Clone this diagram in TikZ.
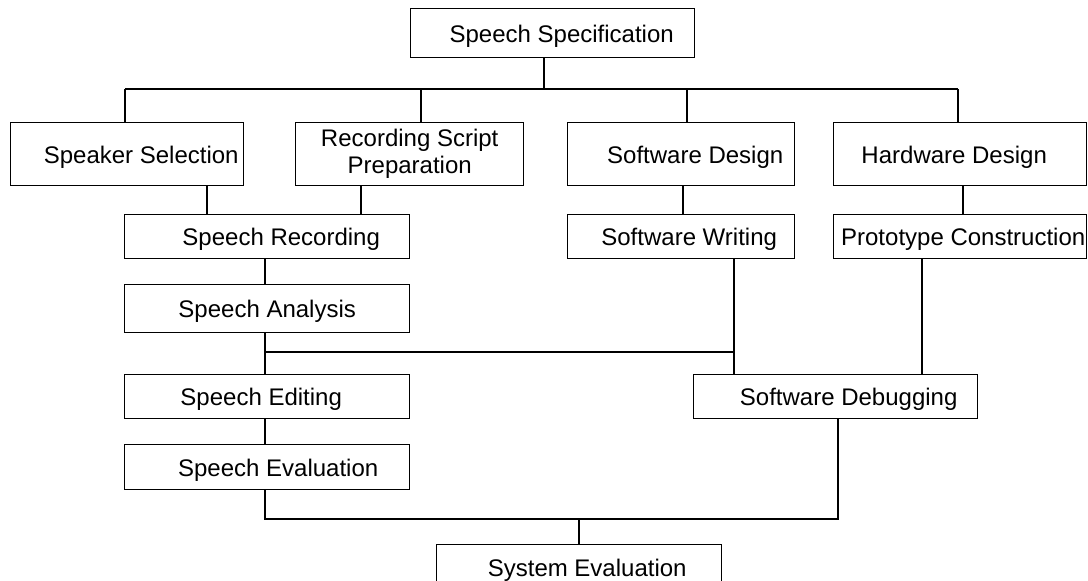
\documentclass[tikz,border=0pt]{standalone}
\usepackage{fontspec}
\setmainfont{Liberation Sans}
\usepackage{tikz}
\usetikzlibrary{positioning,calc}
\tikzset{
  etapa/.style={draw=black, line width=1.4pt, anchor=north west, inner sep=0pt, align=center, text height=19pt, text depth=1pt, font=\fontsize{24}{27}\selectfont},
  enlace/.style={line width=1.4pt},
}
\newcommand{\padl}[2]{\hspace*{#1}#2}
\newcommand{\padr}[2]{#2\hspace*{#1}}

\begin{document}
\begin{tikzpicture}[x=1pt, y=-1pt]
\useasboundingbox (0,0) rectangle (1088,581);

% etapas
\node[etapa, minimum width=284pt, minimum height=49pt] (spec) at (410,8) {\padl{18pt}{Speech Specification}};

\node[etapa, minimum width=233pt, minimum height=63pt] (spkr) at (10,122) {\padl{28pt}{Speaker Selection}};
\node[etapa, text height={}, text depth={}, minimum width=228pt, minimum height=63pt] (script) at (295,122) {\raisebox{-3pt}{\parbox{220pt}{\centering Recording Script\\Preparation}}};
\node[etapa, minimum width=227pt, minimum height=63pt] (swdes) at (567,122) {\padl{28pt}{Software Design}};
\node[etapa, minimum width=253pt, minimum height=63pt] (hwdes) at (833,122) {\padr{12pt}{Hardware Design}};

\node[etapa, minimum width=285pt, minimum height=44pt] (srec) at (124,214) {\padl{28pt}{Speech Recording}};
\node[etapa, minimum width=227pt, minimum height=44pt] (swwri) at (567,214) {\padl{16pt}{Software Writing}};
\node[etapa, minimum width=253pt, minimum height=44pt] (proto) at (833,214) {\padl{6pt}{Prototype Construction}};

\node[etapa, minimum width=285pt, minimum height=48pt] (sana) at (124,284) {Speech Analysis};
\node[etapa, minimum width=285pt, minimum height=44pt] (sedit) at (124,374) {\padr{12pt}{Speech Editing}};
\node[etapa, minimum width=285pt, minimum height=45pt] (seval) at (124,444) {\padl{22pt}{Speech Evaluation}};
\node[etapa, minimum width=284pt, minimum height=44pt] (swdbg) at (693,374) {\padl{26pt}{Software Debugging}};

\node[etapa, minimum width=285pt, minimum height=46pt] (syseval) at (436,544) {\padl{16pt}{System Evaluation}};

% guias verticales
\coordinate (xspk) at (207,0);
\coordinate (xscr) at (361,0);
\coordinate (xsw) at (683,0);
\coordinate (xhw) at (963,0);
\coordinate (xspeech) at (265,0);
\coordinate (xwri) at (734,0);
\coordinate (xpro) at (922,0);
\coordinate (xdbg) at (838,0);

% bus superior
\coordinate (bus) at (544,89);
\coordinate (b1) at (125,89);
\coordinate (b2) at (421,89);
\coordinate (b3) at (687,89);
\coordinate (b4) at (958,89);
\draw[enlace] (bus |- spec.south) -- (bus);
\draw[enlace] (b1) -- (b4);
\draw[enlace] (b1) -- (b1 |- spkr.north);
\draw[enlace] (b2) -- (b2 |- script.north);
\draw[enlace] (b3) -- (b3 |- swdes.north);
\draw[enlace] (b4) -- (b4 |- hwdes.north);

\draw[enlace] (xspk |- spkr.south) -- (xspk |- srec.north);
\draw[enlace] (xscr |- script.south) -- (xscr |- srec.north);
\draw[enlace] (xsw |- swdes.south) -- (xsw |- swwri.north);
\draw[enlace] (xhw |- hwdes.south) -- (xhw |- proto.north);

\draw[enlace] (xspeech |- srec.south) -- (xspeech |- sana.north);
\draw[enlace] (xspeech |- sana.south) -- (xspeech |- sedit.north);
\draw[enlace] (xspeech |- sedit.south) -- (xspeech |- seval.north);

\coordinate (mid) at (734,352);
\draw[enlace] (xspeech |- mid) -- (mid);
\draw[enlace] (xwri |- swwri.south) -- (xwri |- swdbg.north);
\draw[enlace] (xpro |- proto.south) -- (xpro |- swdbg.north);

% bus inferior
\coordinate (bot) at (579,519);
\draw[enlace] (xspeech |- seval.south) |- (bot) -| (xdbg |- swdbg.south);
\draw[enlace] (bot) -- (bot |- syseval.north);
\end{tikzpicture}
\end{document}
